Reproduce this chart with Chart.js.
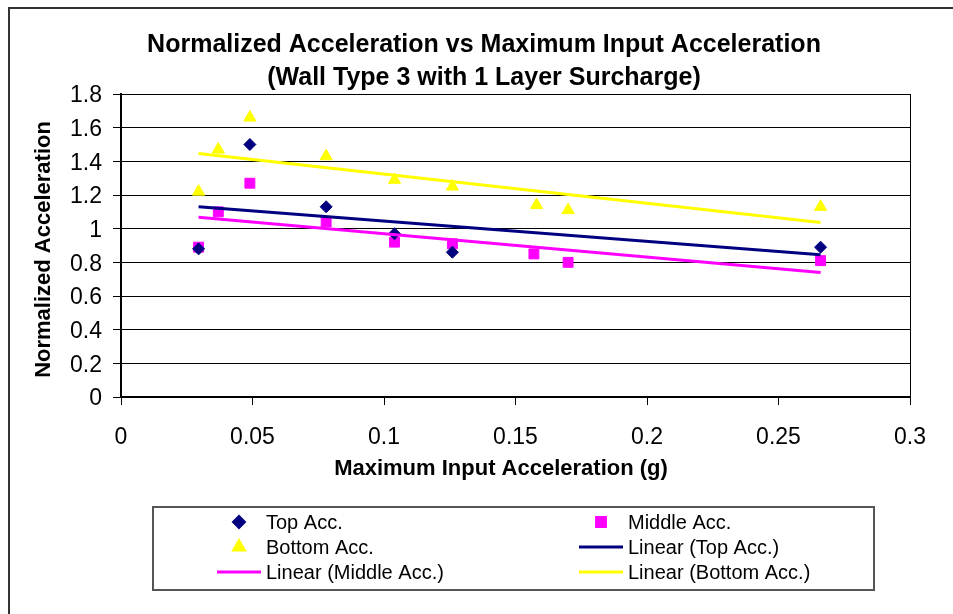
<!DOCTYPE html>
<html>
<head>
<meta charset="utf-8">
<title>Normalized Acceleration vs Maximum Input Acceleration</title>
<script src="https://cdn.jsdelivr.net/npm/chart.js@4.4.1/dist/chart.umd.min.js"></script>
<style>
  html, body { margin: 0; padding: 0; background: #fff; overflow: hidden; }
  #wrap { position: relative; width: 953px; height: 614px; }
</style>
</head>
<body>
<div id="wrap"><canvas id="chart" width="953" height="614"></canvas></div>
<script>
/* ---------- data: wall type 3, 1 layer surcharge ---------- */
const xTop = [0.0295, 0.049, 0.078, 0.104, 0.126, 0.266];
const yTop = [0.88, 1.50, 1.13, 0.97, 0.86, 0.89];

const xMid = [0.0295, 0.037, 0.049, 0.078, 0.104, 0.126, 0.157, 0.170, 0.266];
const yMid = [0.89, 1.10, 1.27, 1.04, 0.92, 0.91, 0.85, 0.80, 0.81];

const xBot = [0.0295, 0.037, 0.049, 0.078, 0.104, 0.126, 0.158, 0.170, 0.266];
const yBot = [1.22, 1.47, 1.66, 1.43, 1.29, 1.25, 1.14, 1.11, 1.13];

// linear trendline end points (first and last x)
const xTrend = [0.0295, 0.266];
const yTrendTop = [1.13, 0.845];
const yTrendMid = [1.068, 0.74];
const yTrendBot = [1.446, 1.037];

const xTicks = [0, 0.05, 0.1, 0.15, 0.2, 0.25, 0.3];
const yTicks = [0, 0.2, 0.4, 0.6, 0.8, 1, 1.2, 1.4, 1.6, 1.8];

const titleLines = ["Normalized Acceleration vs Maximum Input Acceleration", "(Wall Type 3 with 1 Layer Surcharge)"];
const xTitle = "Maximum Input Acceleration (g)";
const yTitle = "Normalized Acceleration";

const FONT = "'Liberation Sans', Arial, Helvetica, sans-serif";
const NAVY = "#000080", MAGENTA = "#FF00FF", YELLOW = "#FFFF00";

const pts = (xs, ys) => xs.map((x, i) => ({ x, y: ys[i] }));

/* ---------- titles, frames and the two-column legend ---------- */
const decor = {
  id: "decor",
  afterDraw(ch) {
    const g = ch.ctx;
    const a = ch.chartArea;
    g.save();
    // outer frame (only top/left fall inside the canvas)
    g.strokeStyle = "#333"; g.lineWidth = 2;
    g.beginPath(); g.moveTo(9, 614); g.lineTo(9, 8); g.lineTo(953, 8); g.stroke();
    // plot frame, right side
    g.strokeStyle = "#000"; g.lineWidth = 1;
    g.beginPath(); g.moveTo(Math.round(a.right) + 0.5, a.top); g.lineTo(Math.round(a.right) + 0.5, a.bottom); g.stroke();

    g.fillStyle = "#000";
    g.textAlign = "center"; g.textBaseline = "middle";
    g.font = "bold 25px " + FONT;
    g.fillText(titleLines[0], 484, 45);
    g.fillText(titleLines[1], 484, 78);

    g.font = "bold 22px " + FONT;
    g.fillText(xTitle, 501, 469);
    g.save();
    g.translate(44, (a.top + a.bottom) / 2 + 4);
    g.rotate(-Math.PI / 2);
    g.fillText(yTitle, 0, 0);
    g.restore();

    // legend box
    const box = { l: 153, t: 507, r: 874, b: 590 };
    g.fillStyle = "#fff";
    g.fillRect(box.l, box.t, box.r - box.l, box.b - box.t);
    g.strokeStyle = "#555"; g.lineWidth = 2;
    g.strokeRect(box.l, box.t, box.r - box.l, box.b - box.t);

    const colSample = [239, 601], colText = [266, 628], rowY = [522, 547, 572];
    g.font = "20px " + FONT;
    g.textAlign = "left";
    ch.data.datasets.forEach((ds, i) => {
      const cx = colSample[i % 2], cy = rowY[Math.floor(i / 2)];
      if (ds.showLine) {
        g.strokeStyle = ds.borderColor; g.lineWidth = 3;
        g.beginPath(); g.moveTo(cx - 22, cy); g.lineTo(cx + 22, cy); g.stroke();
      } else {
        g.fillStyle = ds.pointBackgroundColor;
        g.strokeStyle = ds.pointBorderColor;
        Chart.helpers.drawPoint(g, { pointStyle: ds.pointStyle, radius: ds.pointRadius, rotation: 0, borderWidth: 1 }, cx, cy);
      }
      g.fillStyle = "#000";
      g.fillText(ds.label, colText[i % 2], cy + 1);
    });
    g.restore();
  },
};

const scatterSet = (label, data, color, style, r) => ({
  label, data, showLine: false, order: 1,
  pointStyle: style, pointRadius: r, pointHoverRadius: r,
  pointBackgroundColor: color, pointBorderColor: color, pointBorderWidth: 1,
  backgroundColor: color, borderColor: color,
});
const trendSet = (label, data, color) => ({
  label, data, showLine: true, order: 0,
  borderColor: color, backgroundColor: color, borderWidth: 3,
  pointRadius: 0, pointHoverRadius: 0, fill: false,
});

new Chart(document.getElementById("chart"), {
  type: "scatter",
  data: {
    datasets: [
      scatterSet("Top Acc.", pts(xTop, yTop), NAVY, "rectRot", 6),
      scatterSet("Middle Acc.", pts(xMid, yMid), MAGENTA, "rect", 7),
      scatterSet("Bottom Acc.", pts(xBot, yBot), YELLOW, "triangle", 7),
      trendSet("Linear (Top Acc.)", pts(xTrend, yTrendTop), NAVY),
      trendSet("Linear (Middle Acc.)", pts(xTrend, yTrendMid), MAGENTA),
      trendSet("Linear (Bottom Acc.)", pts(xTrend, yTrendBot), YELLOW),
    ],
  },
  options: {
    responsive: false,
    animation: false,
    devicePixelRatio: 1,
    layout: { padding: { left: 0, top: 94, right: 43, bottom: 157 } },
    plugins: { legend: { display: false }, title: { display: false }, tooltip: { enabled: false } },
    scales: {
      x: {
        type: "linear", min: 0, max: 0.3,
        afterBuildTicks: (s) => { s.ticks = xTicks.map((v) => ({ value: v })); },
        afterFit: (s) => { s.height = 60; },
        ticks: { color: "#000", font: { family: FONT, size: 23 }, padding: 19, maxRotation: 0, autoSkip: false, callback: (v) => String(v) },
        grid: { drawOnChartArea: false, drawTicks: true, tickLength: 8, color: "#000", lineWidth: 1 },
        border: { display: true, color: "#000", width: 2 },
      },
      y: {
        type: "linear", min: 0, max: 1.8,
        afterBuildTicks: (s) => { s.ticks = yTicks.map((v) => ({ value: v })); },
        afterFit: (s) => { s.width = 121; },
        ticks: { color: "#000", font: { family: FONT, size: 23 }, padding: 11, labelOffset: 2, autoSkip: false, callback: (v) => String(v) },
        grid: { drawTicks: true, tickLength: 8, color: "#000", lineWidth: 1 },
        border: { display: true, color: "#000", width: 2 },
      },
    },
  },
  plugins: [decor],
});
</script>
</body>
</html>
